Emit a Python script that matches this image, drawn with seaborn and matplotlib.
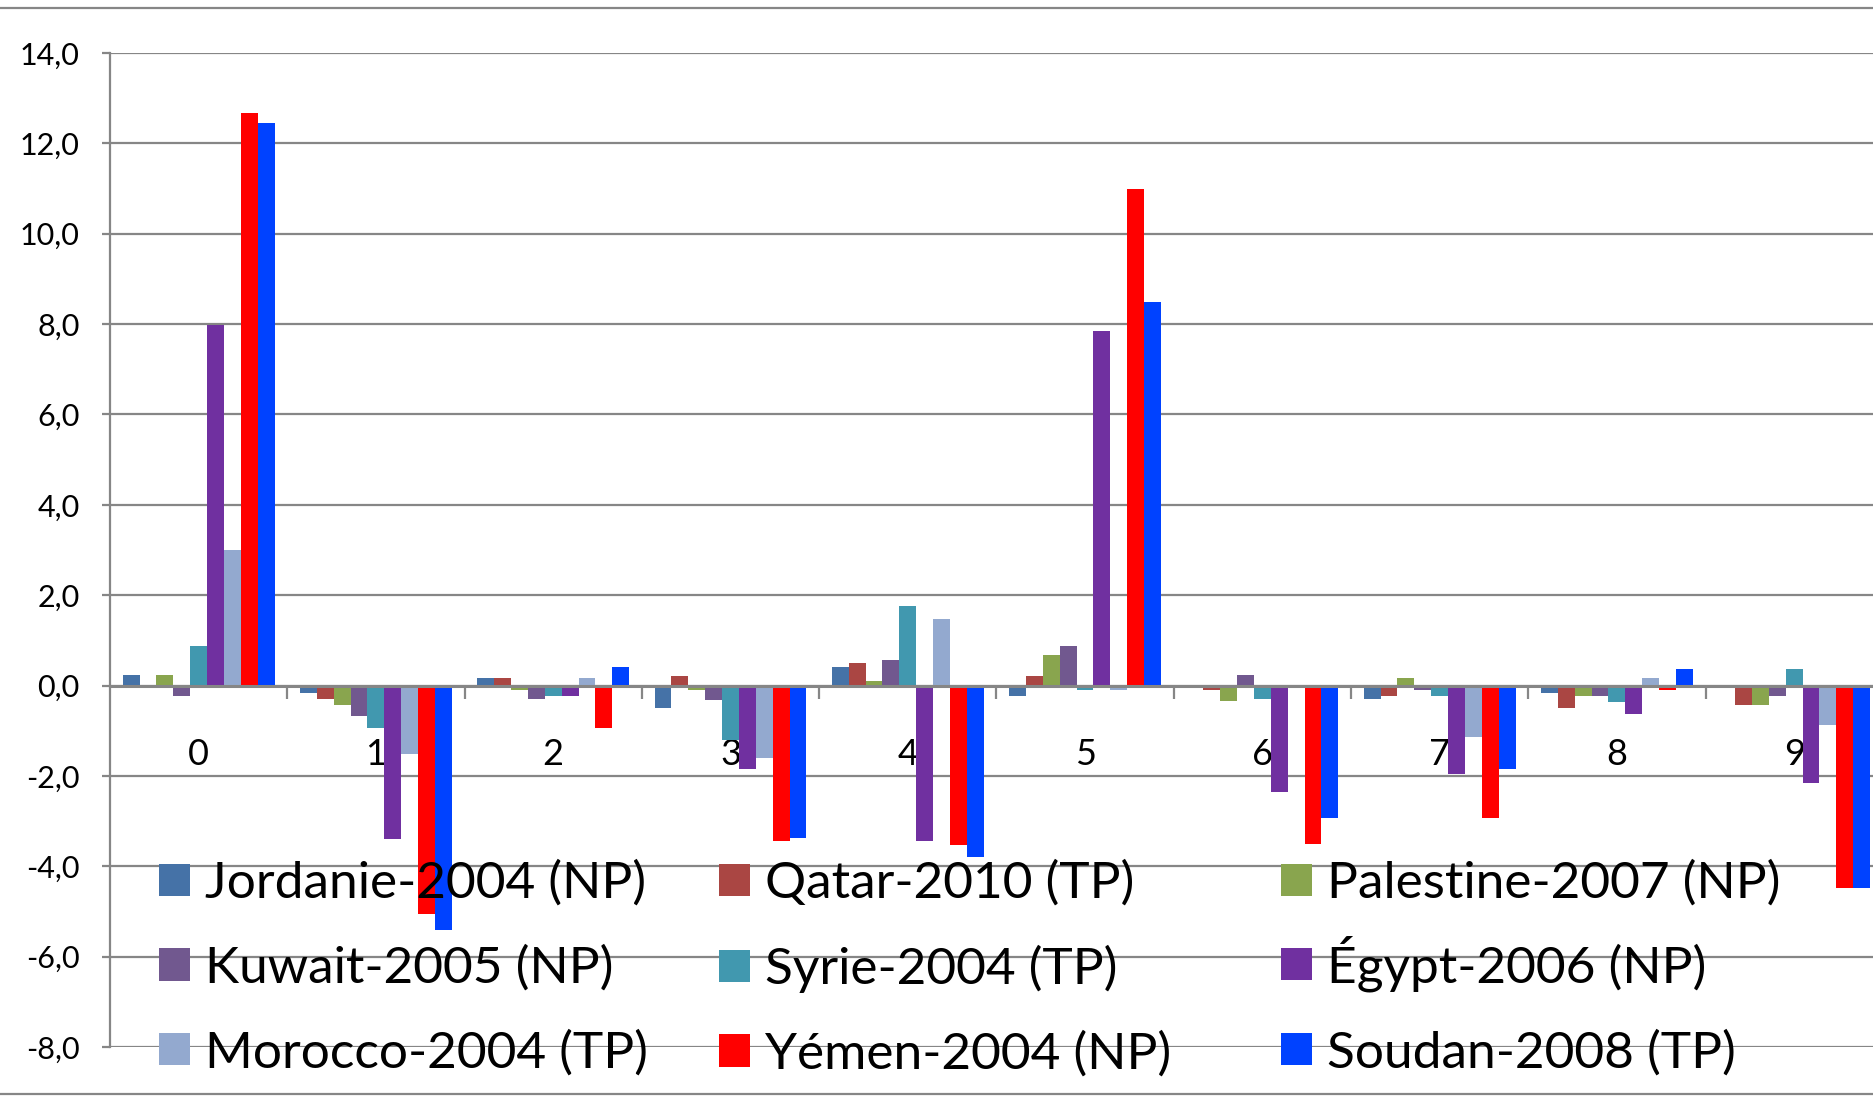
import matplotlib
matplotlib.use("Agg")
import matplotlib.pyplot as plt
from matplotlib.lines import Line2D
from matplotlib.ticker import FuncFormatter, FixedLocator
import seaborn as sns
import pandas as pd

categories = ["0", "1", "2", "3", "4", "5", "6", "7", "8", "9"]
series = ["Jordanie-2004 (NP)", "Qatar-2010 (TP)", "Palestine-2007 (NP)",
          "Kuwait-2005 (NP)", "Syrie-2004 (TP)", "Égypt-2006 (NP)",
          "Morocco-2004 (TP)", "Yémen-2004 (NP)", "Soudan-2008 (TP)"]

jordanie = [0.23, -0.16, 0.16, -0.50, 0.42, -0.24, 0.0, -0.29, -0.16, 0.0]
qatar = [0.0, -0.29, 0.16, 0.22, 0.49, 0.21, -0.09, -0.23, -0.49, -0.42]
palestine = [0.23, -0.42, -0.10, -0.10, 0.09, 0.68, -0.35, 0.16, -0.23, -0.42]
kuwait = [-0.23, -0.68, -0.29, -0.31, 0.56, 0.88, 0.23, -0.09, -0.23, -0.23]
syrie = [0.88, -0.93, -0.23, -1.20, 1.75, -0.10, -0.29, -0.23, -0.36, 0.36]
egypt = [7.98, -3.39, -0.23, -1.85, -3.45, 7.84, -2.36, -1.96, -0.62, -2.16]
morocco = [3.00, -1.52, 0.16, -1.60, 1.48, -0.10, 0.0, -1.13, 0.16, -0.87]
yemen = [12.68, -5.05, -0.93, -3.45, -3.52, 10.98, -3.51, -2.94, -0.09, -4.47]
soudan = [12.44, -5.40, 0.42, -3.38, -3.79, 8.48, -2.94, -1.85, 0.36, -4.47]

colors = ["#4572A7", "#AA4643", "#89A54E", "#71588F", "#4198AF",
          "#7030A0", "#93A9CF", "#FF0000", "#0042FF"]

yticks = [-8, -6, -4, -2, 0, 2, 4, 6, 8, 10, 12, 14]

values = [jordanie, qatar, palestine, kuwait, syrie, egypt, morocco, yemen, soudan]
rows = []
for name, vals in zip(series, values):
    for c, v in zip(categories, vals):
        rows.append({"cat": c, "value": v, "series": name})
df = pd.DataFrame(rows)

plt.rcParams['font.family'] = ['Lato', 'DejaVu Sans']

FIG_W, FIG_H = 1874, 1096
fig = plt.figure(figsize=(FIG_W / 100, FIG_H / 100), dpi=100)
ax = fig.add_axes([0.0587, 0.0447, 0.946, 0.907])

sns.barplot(data=df, x="cat", y="value", hue="series", order=categories,
            hue_order=series, palette=colors, saturation=1, width=0.857,
            gap=0, errorbar=None, linewidth=0, ax=ax)

handles, labels = ax.get_legend_handles_labels()
if ax.get_legend() is not None:
    ax.get_legend().remove()

grey = "#868686"
ax.set_ylim(-8, 14)
ax.set_xlim(-0.5, 9.5)
ax.set_yticks(yticks)
ax.yaxis.set_major_formatter(FuncFormatter(lambda v, p: f"{v:.1f}".replace(".", ",")))
ax.set_xlabel("")
ax.set_ylabel("")
ax.yaxis.grid(True, color=grey, lw=1.6)
ax.xaxis.grid(False)
ax.set_axisbelow(True)
for s in ["top", "right"]:
    ax.spines[s].set_visible(False)
ax.spines["left"].set_color(grey)
ax.spines["left"].set_linewidth(1.6)
ax.spines["bottom"].set_position(("data", 0))
ax.spines["bottom"].set_color(grey)
ax.spines["bottom"].set_linewidth(2.2)
ax.spines["bottom"].set_zorder(5)

ax.tick_params(axis="y", which="major", length=6, width=1.6, color=grey,
               pad=16, labelsize=22, direction="out")
ax.tick_params(axis="x", which="major", length=0, pad=38, labelsize=26)
ax.xaxis.set_minor_locator(FixedLocator([i + 0.5 for i in range(9)]))
ax.tick_params(axis="x", which="minor", length=9, width=1.6, color=grey,
               direction="out")
ax.set_facecolor("white")

# legend: three columns of equal width, row-major order
col_x = [0.0849, 0.3838, 0.6836]
top_y = 0.215
pitch = 83.7 / FIG_H
leg_kw = dict(loc="upper left", bbox_transform=fig.transFigure, frameon=False,
              fontsize=37, handlelength=0.6, handleheight=0.6,
              handletextpad=0.3, labelspacing=0.74, borderpad=0,
              borderaxespad=0)

col_legs = []
for c in range(2):
    idx = [c, c + 3, c + 6]
    leg = fig.legend([handles[i] for i in idx], [labels[i] for i in idx],
                     bbox_to_anchor=(col_x[c], top_y), **leg_kw)
    col_legs.append(leg)

# third column: one legend per row so that the accent in "Égypt" does not shift rows
row_legs = []
for r in range(3):
    i = 2 + 3 * r
    leg = fig.legend([handles[i]], [labels[i]],
                     bbox_to_anchor=(col_x[2], top_y - r * pitch), **leg_kw)
    row_legs.append(leg)

fig.canvas.draw()
renderer = fig.canvas.get_renderer()
ref_texts = col_legs[0].get_texts()
for r, leg in enumerate(row_legs):
    target = ref_texts[r].get_window_extent(renderer).y0
    cur = leg.get_texts()[0].get_window_extent(renderer).y0
    dy = (target - cur) / FIG_H
    leg.set_bbox_to_anchor((col_x[2], top_y - r * pitch + dy), transform=fig.transFigure)

# chart border lines (top and bottom)
fig.add_artist(Line2D([0, 1], [1 - 7.5 / FIG_H, 1 - 7.5 / FIG_H],
                      transform=fig.transFigure, color=grey, lw=1.6))
fig.add_artist(Line2D([0, 1], [2.5 / FIG_H, 2.5 / FIG_H],
                      transform=fig.transFigure, color=grey, lw=1.6))

fig.savefig("out.png", dpi=100, facecolor="white")
